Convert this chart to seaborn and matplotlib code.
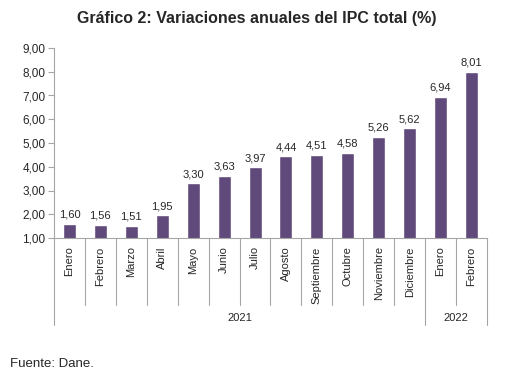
import pandas as pd
import matplotlib
matplotlib.use('Agg')
import matplotlib.pyplot as plt
import matplotlib.transforms as mtransforms
from matplotlib.ticker import FuncFormatter
import seaborn as sns

# datos
meses = ['Enero', 'Febrero', 'Marzo', 'Abril', 'Mayo', 'Junio', 'Julio',
         'Agosto', 'Septiembre', 'Octubre', 'Noviembre', 'Diciembre',
         'Enero', 'Febrero']
anios = ['2021'] * 12 + ['2022'] * 2
ipc = [1.60, 1.56, 1.51, 1.95, 3.30, 3.63, 3.97, 4.44, 4.51, 4.58,
       5.26, 5.62, 6.94, 8.01]

df = pd.DataFrame({'mes': meses, 'anio': anios, 'ipc': ipc})
df['periodo'] = df['mes'] + ' ' + df['anio']

sns.set_style('white')
plt.rcParams['font.family'] = ['Liberation Sans', 'DejaVu Sans']

fig = plt.figure(figsize=(5.06, 3.82), dpi=100)
ax = fig.add_axes([54 / 506, 1 - 238 / 382, (487 - 54) / 506, (238 - 48) / 382])

color_linea = '#a6a6a6'
sns.barplot(data=df, x='periodo', y='ipc', order=list(df['periodo']),
            color='#604A7B', saturation=1, width=0.42, ax=ax)

ax.set_ylim(1, 9)
ax.set_xlim(-0.5, len(df) - 0.5)
ax.set_yticks(range(1, 10))
ax.yaxis.set_major_formatter(FuncFormatter(lambda v, p: f'{v:.2f}'.replace('.', ',')))
ax.set_xticks(range(len(df)))
ax.set_xticklabels(df['mes'], rotation=90, fontsize=8, color='#262626')
ax.tick_params(axis='x', length=0, pad=6)
ax.tick_params(axis='y', left=True, length=4, width=0.8, color=color_linea,
               labelsize=8.5, labelcolor='#262626', pad=2)
ax.set_xlabel('')
ax.set_ylabel('')

for s in ['top', 'right']:
    ax.spines[s].set_visible(False)
for s in ['left', 'bottom']:
    ax.spines[s].set_color(color_linea)
    ax.spines[s].set_linewidth(0.8)

etiquetas = [f'{v:.2f}'.replace('.', ',') for v in df['ipc']]
ax.bar_label(ax.containers[0], labels=etiquetas, padding=3, fontsize=8,
             color='#262626')

# separadores de categorias y años debajo del eje
trans = mtransforms.blended_transform_factory(ax.transData, ax.transAxes)
y_corto = -(305 - 238) / 190
y_largo = -(325 - 238) / 190
limites = [i - 0.5 for i in range(len(df) + 1)]
for i, x in enumerate(limites):
    if i == 0 or i == len(df) or df['anio'].iloc[i] != df['anio'].iloc[i - 1]:
        y_fin = y_largo
    else:
        y_fin = y_corto
    ax.plot([x, x], [0, y_fin], transform=trans, color=color_linea,
            lw=0.8, clip_on=False)

for anio, grupo in df.groupby('anio'):
    centro = (grupo.index.min() + grupo.index.max()) / 2
    ax.text(centro, -(318 - 238) / 190, anio, transform=trans, ha='center',
            va='center', fontsize=8, color='#262626')

fig.text(257 / 506, 1 - 18.5 / 382, 'Gráfico 2: Variaciones anuales del IPC total (%)',
         ha='center', va='center', fontsize=11.5, fontweight='bold')
fig.text(10 / 506, 1 - 364 / 382, 'Fuente: Dane.', ha='left', va='center',
         fontsize=9.5, color='#262626')

fig.savefig('out.png', dpi=100)
